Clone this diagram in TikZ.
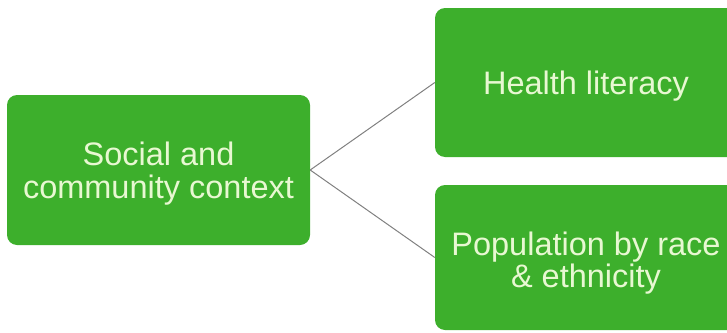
\documentclass[tikz,border=0pt]{standalone}
\usepackage{fontspec}
\setmainfont{Liberation Sans}
\definecolor{boxgreen}{RGB}{61,175,44}
\definecolor{boxtext}{RGB}{232,248,210}
\definecolor{linkgray}{RGB}{128,128,128}
\tikzset{
  topic/.style={fill=boxgreen, rounded corners=10pt, text=boxtext, align=center,
    inner sep=0pt, font=\fontsize{32.5}{33}\selectfont},
  link/.style={draw=linkgray, line width=1pt}
}

\begin{document}
\begin{tikzpicture}[x=1pt, y=-1pt]
		%%%%% START %%%%%
		\useasboundingbox (0, 0) rectangle (727, 332);
		\clip (0, 0) rectangle (727, 332);
		
		\node[topic, minimum width=303pt, minimum height=150pt] (social) at (158.5, 170) {\rule{0pt}{30pt}Social and\\community context};
		
		\node[topic, minimum width=302pt, minimum height=149pt] (health) at (586, 82.5) {\rule{0pt}{30pt}Health literacy};
		\node[topic, minimum width=302pt, minimum height=145pt, font=\fontsize{32.5}{32}\selectfont] (population) at (586, 257.5) {\rule{0pt}{35pt}Population by race\\\& ethnicity};
		
		\draw[link] (social.east) -- (health.west);
		\draw[link] (social.east) -- (population.west);
		
		%%%%% END %%%%%
	\end{tikzpicture}
\end{document}
